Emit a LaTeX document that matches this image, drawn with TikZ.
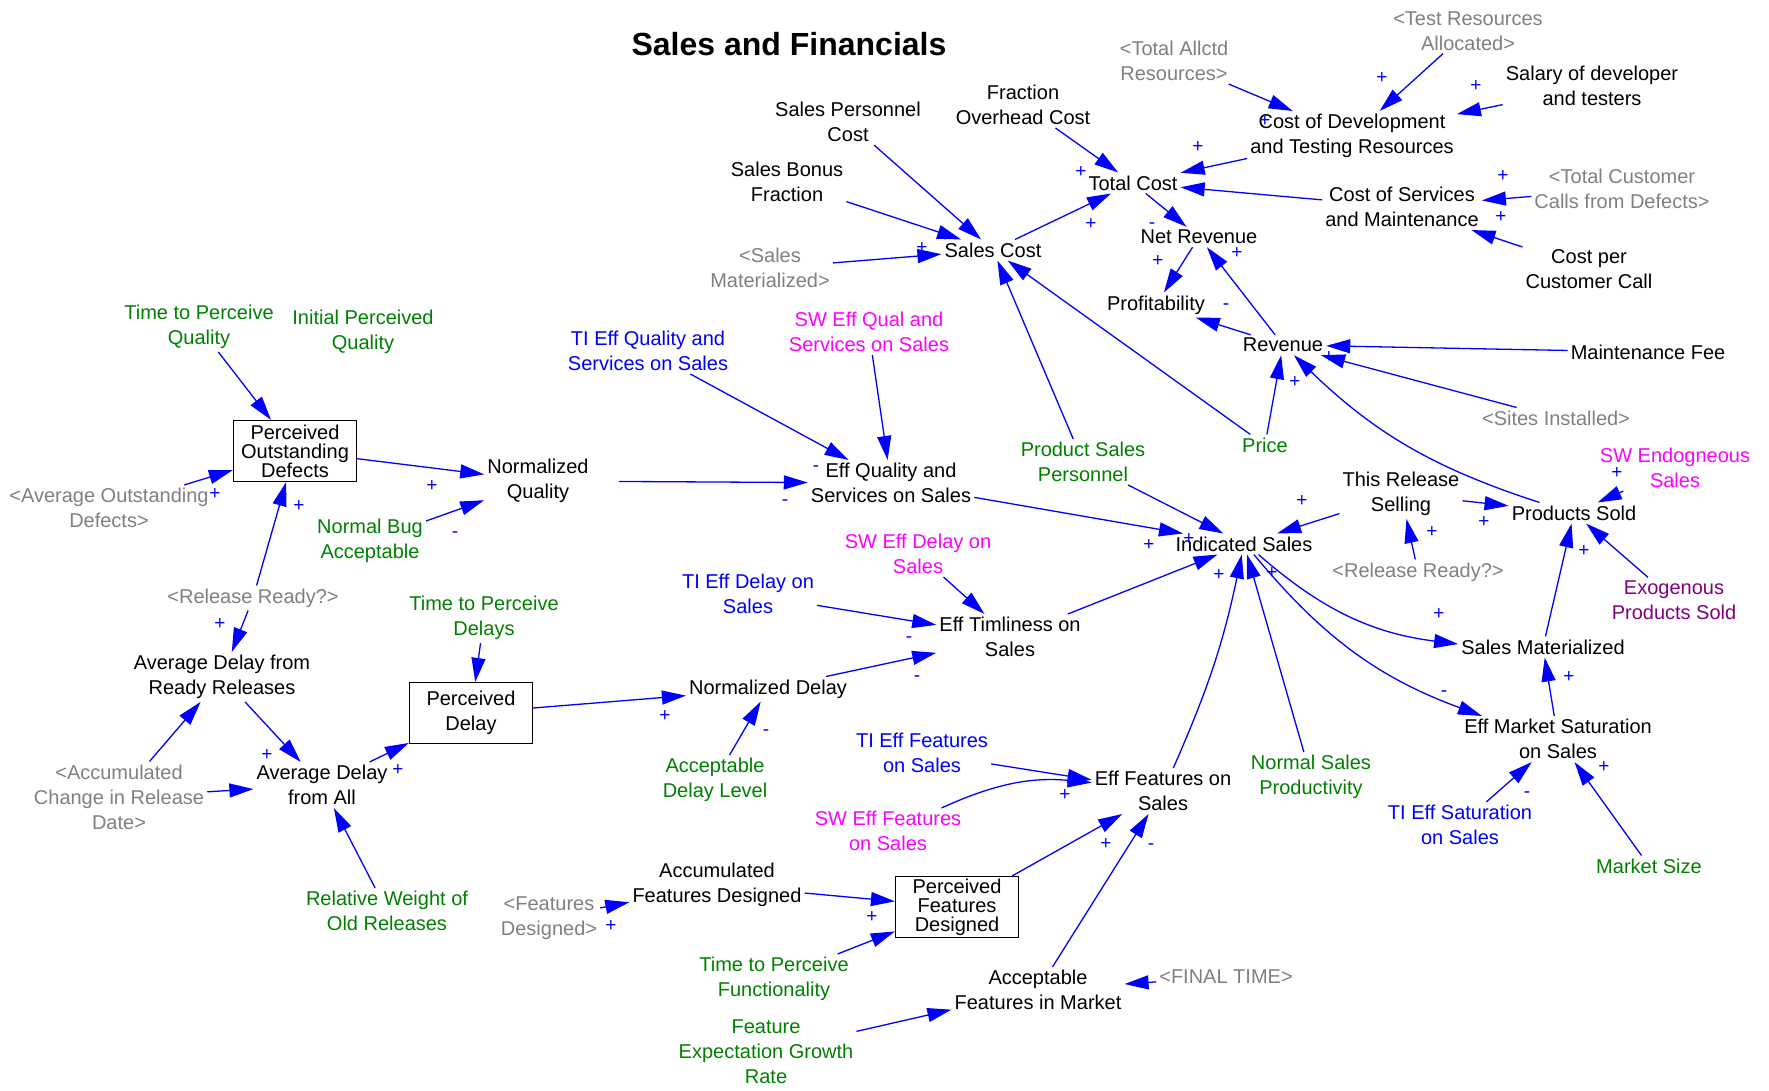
\documentclass[tikz,border=0pt]{standalone}
\usepackage{fontspec}
\setmainfont{Liberation Sans}
\usetikzlibrary{arrows.meta}
\definecolor{vblue}{RGB}{0,0,255}
\definecolor{vgreen}{RGB}{0,128,0}
\definecolor{vgray}{RGB}{128,128,128}
\definecolor{vmag}{RGB}{255,0,255}
\definecolor{vpurple}{RGB}{128,0,128}
\begin{document}
\begin{tikzpicture}[x=1pt,y=-1pt,
  var/.style={font=\fontsize{20}{25}\selectfont, align=center, inner sep=3pt},
  shadow/.style={var, text=vgray},
  const/.style={var, text=vgreen},
  sw/.style={var, text=vmag},
  ti/.style={var, text=vblue},
  exo/.style={var, text=vpurple},
  level/.style={var, draw, line width=1.2pt, minimum width=123pt, minimum height=61pt, inner sep=0pt},
  tight/.style={font=\fontsize{20}{19}\selectfont},
  link/.style={draw=vblue, line width=1.3pt, -{Triangle[length=24pt,width=14pt]}},
  pol/.style={text=vblue, font=\fontsize{19}{19}\selectfont, inner sep=0pt, text height=0.6em, text depth=0pt},
]
\useasboundingbox (0,0) rectangle (1769,1090);

% title
\node[font=\fontsize{32}{36}\selectfont\bfseries] (title) at (789,44) {Sales and Financials};

% variables
\node[const] (tpq) at (199,327) {Time to Perceive\\Quality};
\node[const] (ipq) at (363,332) {Initial Perceived\\Quality};
\node[level,tight] (pod) at (295,451) {Perceived\\Outstanding\\Defects};
\node[var] (nq) at (538,481) {Normalized\\Quality};
\node[shadow] (aod) at (109,508) {<Average Outstanding\\Defects>};
\node[const] (nba) at (370,541) {Normal Bug\\Acceptable};
\node[shadow] (rr1) at (253,598) {<Release Ready?>};
\node[const] (tpd) at (484,618) {Time to Perceive\\Delays};
\node[var] (adrr) at (222,677) {Average Delay from\\Ready Releases};
\node[level] (pd) at (471,713) {Perceived\\Delay};
\node[shadow] (acr) at (119,797) {<Accumulated\\Change in Release\\Date>};
\node[var] (ada) at (322,785) {Average Delay\\from All};
\node[const] (rwo) at (387,911) {Relative Weight of\\Old Releases};
\node[shadow] (fd) at (549,918) {<Features\\Designed>};
\node[var] (afd) at (717,885) {Accumulated\\Features Designed};
\node[level,tight] (pfd) at (957,907) {Perceived\\Features\\Designed};
\node[const] (tpf) at (774,979) {Time to Perceive\\Functionality};
\node[const] (fegr) at (766,1052) {Feature\\Expectation Growth\\Rate};
\node[var] (afm) at (1038,990) {Acceptable\\Features in Market};
\node[shadow] (ft) at (1226,977) {<FINAL TIME>};
\node[const] (adl) at (715,780) {Acceptable\\Delay Level};
\node[var] (nd) at (768,689) {Normalized Delay};
\node[ti] (tied) at (748,594) {TI Eff Delay on\\Sales};
\node[sw] (swed) at (918,554) {SW Eff Delay on\\Sales};
\node[var] (et) at (1010,637) {Eff Timliness on\\Sales};
\node[ti] (tief) at (922,753) {TI Eff Features\\on Sales};
\node[sw] (swef) at (888,831) {SW Eff Features\\on Sales};
\node[var] (ef) at (1163,791) {Eff Features on\\Sales};
\node[ti] (tieq) at (648,351) {TI Eff Quality and\\Services on Sales};
\node[sw] (sweq) at (869,332) {SW Eff Qual and\\Services on Sales};
\node[var] (eq) at (891,483) {Eff Quality and\\Services on Sales};
\node[const] (psp) at (1083,462) {Product Sales\\Personnel};
\node[var] (is) at (1244,544) {Indicated Sales};
\node[const] (nsp) at (1311,777) {Normal Sales\\Productivity};
\node[var] (ems) at (1558,739) {Eff Market Saturation\\on Sales};
\node[ti] (ties) at (1460,825) {TI Eff Saturation\\on Sales};
\node[const] (ms) at (1649,866) {Market Size};
\node[var] (sm) at (1543,647) {Sales Materialized};
\node[var] (ps) at (1574,513) {Products Sold};
\node[exo] (eps) at (1674,600) {Exogenous\\Products Sold};
\node[sw] (swes) at (1675,468) {SW Endogneous\\Sales};
\node[var] (trs) at (1401,494) {This Release\\Selling};
\node[shadow] (rr2) at (1418,572) {<Release Ready?>};
\node[const] (price) at (1265,445) {Price};
\node[shadow] (si) at (1556,418) {<Sites Installed>};
\node[var] (mf) at (1648,352) {Maintenance Fee};
\node[var] (rev) at (1283,345) {Revenue};
\node[var] (prof) at (1156,305) {Profitability};
\node[var] (nr) at (1199,237) {Net Revenue};
\node[var] (tc) at (1133,183) {Total Cost};
\node[var] (sc) at (993,250) {Sales Cost};
\node[shadow] (smr) at (770,268) {<Sales\\Materialized>};
\node[var] (sbf) at (787,182) {Sales Bonus\\Fraction};
\node[var] (spc) at (848,122) {Sales Personnel\\Cost};
\node[var] (foc) at (1023,105) {Fraction\\Overhead Cost};
\node[shadow] (tar) at (1174,61) {<Total Allctd\\Resources>};
\node[shadow] (tra) at (1468,31) {<Test Resources\\Allocated>};
\node[var] (sal) at (1592,86) {Salary of developer\\and testers};
\node[var] (cdt) at (1352,136) {Cost of Development\\and Testing Resources};
\node[var] (csm) at (1402,207) {Cost of Services\\and Maintenance};
\node[shadow] (tcc) at (1622,189) {<Total Customer\\Calls from Defects>};
\node[var] (cpc) at (1589,269) {Cost per\\Customer Call};

% causal links
\path[link] (tpq) -- (pod);
\path[link] (aod) -- (pod);
\path[link] (pod) -- (nq);
\path[link] (nba) -- (nq);
\path[link] (rr1) -- (pod);
\path[link] (rr1) -- (adrr);
\path[link] (tpd) -- (pd);
\path[link] (pd) -- (nd);
\path[link] (adrr) -- (ada);
\path[link] (acr) -- (adrr);
\path[link] (acr) -- (ada);
\path[link] (ada) -- (pd);
\path[link] (rwo) -- (ada);
\path[link] (adl) -- (nd);
\path[link] (fd) -- (afd);
\path[link] (afd) -- (pfd);
\path[link] (tpf) -- (pfd);
\path[link] (pfd) -- (ef);
\path[link] (afm) -- (ef);
\path[link] (tief) -- (ef);
\path[link] (swef) to[bend left=15] (ef);
\path[link] (ft) -- (afm);
\path[link] (fegr) -- (afm);
\path[link] (tieq) -- (eq);
\path[link] (sweq) -- (eq);
\path[link, shorten <=27pt] (nq) -- (eq);
\path[link] (eq) -- (is);
\path[link] (psp) -- (is);
\path[link] (psp) -- (sc);
\path[link] (price) -- (sc);
\path[link] (sc) -- (tc);
\path[link] (spc) -- (sc);
\path[link] (sbf) -- (sc);
\path[link] (smr) -- (sc);
\path[link] (foc) -- (tc);
\path[link] (cdt) -- (tc);
\path[link] (tar) -- (cdt);
\path[link] (tra) -- (cdt);
\path[link] (sal) -- (cdt);
\path[link] (csm) -- (tc);
\path[link] (tcc) -- (csm);
\path[link] (cpc) -- (csm);
\path[link] (tc) -- (nr);
\path[link] (rev) -- (nr);
\path[link] (nr) -- (prof);
\path[link] (rev) -- (prof);
\path[link] (mf) -- (rev);
\path[link] (si) -- (rev);
\path[link] (price) -- (rev);
\path[link] (ps) to[bend left=13] (rev);
\path[link] (trs) -- (is);
\path[link] (trs) -- (ps);
\path[link] (rr2) -- (trs);
\path[link] (swes) -- (ps);
\path[link] (eps) -- (ps);
\path[link] (sm) -- (ps);
\path[link] (is) to[bend right=17] (sm);
\path[link] (is) to[bend right=15] (ems);
\path[link] (ems) -- (sm);
\path[link] (ef) to[bend right=6] (is);
\path[link] (nsp) -- (is);
\path[link] (et) -- (is);
\path[link] (swed) -- (et);
\path[link] (tied) -- (et);
\path[link] (nd) -- (et);
\path[link] (ties) -- (ems);
\path[link] (ms) -- (ems);

% link polarities
\node[pol] (p1) at (215,496) {+};
\node[pol] (p2) at (432,488) {+};
\node[pol] (p3) at (455,534) {-};
\node[pol] (p4) at (299,508) {+};
\node[pol] (p5) at (220,626) {+};
\node[pol] (p6) at (665,718) {+};
\node[pol] (p7) at (267,757) {+};
\node[pol] (p8) at (398,772) {+};
\node[pol] (p9) at (766,732) {-};
\node[pol] (p10) at (611,928) {+};
\node[pol] (p11) at (872,919) {+};
\node[pol] (p12) at (1106,846) {+};
\node[pol] (p13) at (1151,846) {-};
\node[pol] (p14) at (1065,797) {+};
\node[pol] (p15) at (816,468) {-};
\node[pol] (p16) at (785,502) {-};
\node[pol] (p17) at (1149,547) {+};
\node[pol] (p18) at (1189,541) {+};
\node[pol] (p19) at (1219,577) {+};
\node[pol] (p20) at (1272,575) {+};
\node[pol] (p21) at (1302,503) {+};
\node[pol] (p22) at (909,639) {-};
\node[pol] (p23) at (917,678) {-};
\node[pol] (p24) at (1091,226) {+};
\node[pol] (p25) at (1081,174) {+};
\node[pol] (p26) at (1198,149) {+};
\node[pol] (p27) at (1265,123) {+};
\node[pol] (p28) at (1382,80) {+};
\node[pol] (p29) at (1476,88) {+};
\node[pol] (p30) at (1503,178) {+};
\node[pol] (p31) at (1501,219) {+};
\node[pol] (p32) at (1152,225) {-};
\node[pol] (p33) at (1237,255) {+};
\node[pol] (p34) at (1158,263) {+};
\node[pol] (p35) at (1226,306) {-};
\node[pol] (p36) at (1329,359) {+};
\node[pol] (p37) at (1295,384) {+};
\node[pol] (p38) at (1484,524) {+};
\node[pol] (p39) at (1432,534) {+};
\node[pol] (p40) at (1617,475) {+};
\node[pol] (p41) at (1584,553) {+};
\node[pol] (p42) at (1439,616) {+};
\node[pol] (p43) at (1444,693) {-};
\node[pol] (p44) at (1569,679) {+};
\node[pol] (p45) at (1527,794) {-};
\node[pol] (p46) at (1604,769) {+};
\node[pol] (p47) at (922,250) {+};
\node[pol] (p48) at (945,238) {+};
\end{tikzpicture}
\end{document}
